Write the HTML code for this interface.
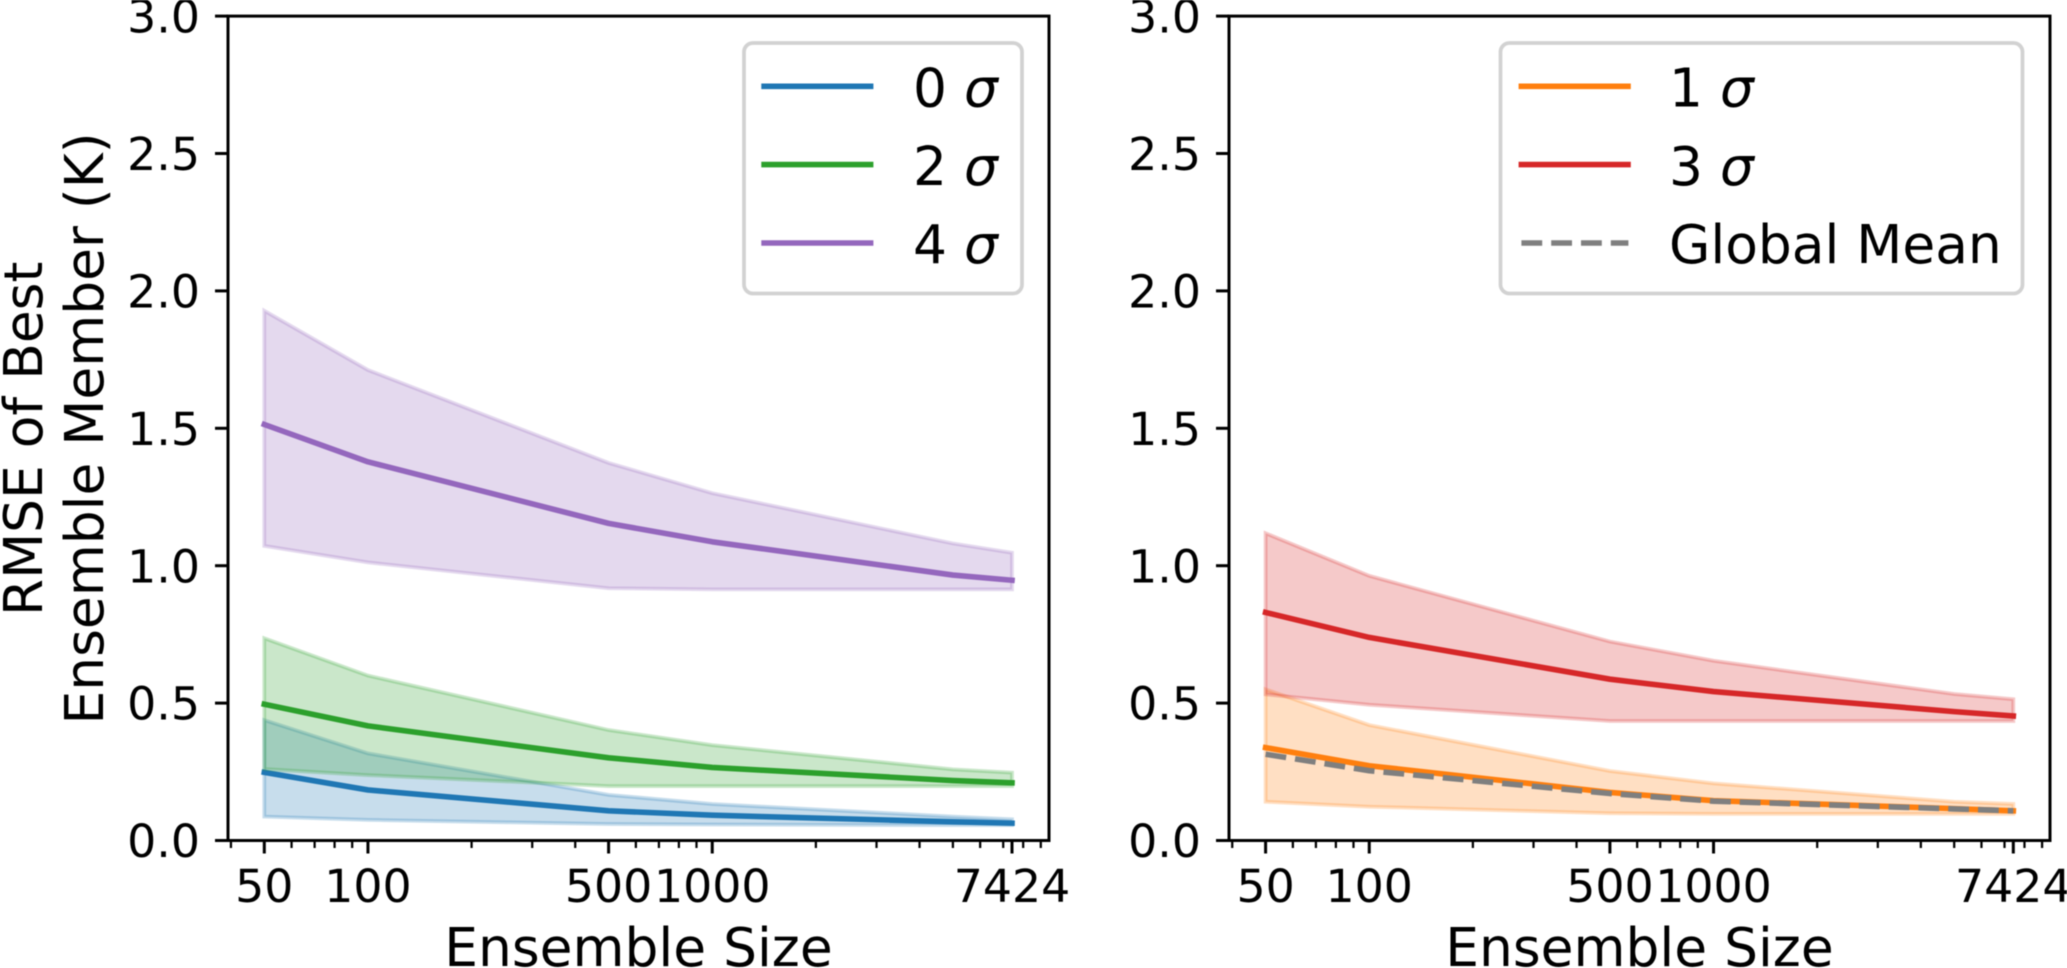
<!DOCTYPE html>
<html lang="en">
<head>
<meta charset="utf-8">
<title>RMSE of Best Ensemble Member vs Ensemble Size</title>
<style>
html,body{margin:0;padding:0;background:#fff;width:2067px;height:968px;overflow:hidden}
svg{display:block;font-family:"DejaVu Sans","Liberation Sans",sans-serif;fill:#000;filter:blur(0.5px)}
.tick{font-size:45.8px}
.label{font-size:53.4px}
.leg{font-size:53.4px}
.sig{font-style:italic}
</style>
</head>
<body>
<svg id="chart" xmlns="http://www.w3.org/2000/svg" width="2067" height="968" viewBox="0 0 2067 968">
  <rect x="0" y="0" width="2067" height="968" fill="#fff"/>
  <g id="marks-left"></g>
  <g id="marks-right"></g>
  <g id="axes-left"></g>
  <g id="axes-right"></g>

  <text class="label" transform="translate(41.8 616) rotate(-90)">RMSE of Best</text>
  <text class="label" transform="translate(102.8 724.5) rotate(-90)">Ensemble Member (K)</text>
  <text class="label" x="638.5" y="966" text-anchor="middle">Ensemble Size</text>
  <text class="label" x="1639.5" y="966" text-anchor="middle">Ensemble Size</text>

  <g>
    <rect x="744" y="43" width="278" height="250.5" rx="9" fill="#fff" fill-opacity="0.8" stroke="#d2d2d2" stroke-width="3.75"/>
    <g>
      <line x1="764.1" x2="870.6" y1="86.3" y2="86.3" stroke="#1f77b4" stroke-width="5.6" stroke-linecap="square"/>
      <text class="leg" x="913" y="106.5">0 <tspan class="sig">σ</tspan></text>
    </g>
    <g>
      <line x1="764.1" x2="870.6" y1="164.6" y2="164.6" stroke="#2ca02c" stroke-width="5.6" stroke-linecap="square"/>
      <text class="leg" x="913" y="184.8">2 <tspan class="sig">σ</tspan></text>
    </g>
    <g>
      <line x1="764.1" x2="870.6" y1="243" y2="243" stroke="#9467bd" stroke-width="5.6" stroke-linecap="square"/>
      <text class="leg" x="913" y="263.2">4 <tspan class="sig">σ</tspan></text>
    </g>
  </g>

  <g>
    <rect x="1500.5" y="43" width="522" height="250.5" rx="9" fill="#fff" fill-opacity="0.8" stroke="#d2d2d2" stroke-width="3.75"/>
    <g>
      <line x1="1521.4" x2="1628" y1="86.3" y2="86.3" stroke="#ff7f0e" stroke-width="5.6" stroke-linecap="square"/>
      <text class="leg" x="1669" y="106.5">1 <tspan class="sig">σ</tspan></text>
    </g>
    <g>
      <line x1="1521.4" x2="1628" y1="164.6" y2="164.6" stroke="#d62728" stroke-width="5.6" stroke-linecap="square"/>
      <text class="leg" x="1669" y="184.8">3 <tspan class="sig">σ</tspan></text>
    </g>
    <g>
      <line x1="1521.4" x2="1628.4" y1="243" y2="243" stroke="#7f7f7f" stroke-width="5.6" stroke-dasharray="20.8 9"/>
      <text class="leg" x="1669" y="263.2">Global Mean</text>
    </g>
  </g>
</svg>
<script>
// ---- data ----
const ensembleSizes = [50, 100, 500, 1000, 5000, 7424];
const xTickLabels = [50, 100, 500, 1000, 7424];
const xMinorTicks = [40, 60, 70, 80, 90, 200, 300, 400, 600, 700, 800, 900, 2000, 3000, 4000, 5000, 6000, 7000, 8000, 9000];
const yTickLabels = ['0.0', '0.5', '1.0', '1.5', '2.0', '2.5', '3.0'];

const sigma0Mean  = [0.248, 0.184, 0.108, 0.092, 0.068, 0.063];
const sigma0Upper = [0.438, 0.317, 0.166, 0.133, 0.087, 0.077];
const sigma0Lower = [0.087, 0.075, 0.060, 0.058, 0.056, 0.056];

const sigma2Mean  = [0.496, 0.417, 0.301, 0.266, 0.218, 0.210];
const sigma2Upper = [0.736, 0.600, 0.402, 0.347, 0.259, 0.247];
const sigma2Lower = [0.260, 0.238, 0.198, 0.198, 0.198, 0.198];

const sigma4Mean  = [1.514, 1.378, 1.154, 1.087, 0.966, 0.947];
const sigma4Upper = [1.928, 1.712, 1.374, 1.264, 1.081, 1.047];
const sigma4Lower = [1.072, 1.012, 0.918, 0.914, 0.914, 0.914];

const sigma1Mean  = [0.338, 0.272, 0.175, 0.145, 0.116, 0.108];
const sigma1Upper = [0.550, 0.420, 0.253, 0.208, 0.141, 0.133];
const sigma1Lower = [0.141, 0.123, 0.099, 0.097, 0.097, 0.097];

const sigma3Mean  = [0.830, 0.739, 0.587, 0.542, 0.469, 0.453];
const sigma3Upper = [1.118, 0.963, 0.724, 0.654, 0.533, 0.514];
const sigma3Lower = [0.532, 0.494, 0.435, 0.435, 0.435, 0.435];

const globalMean  = [0.314, 0.254, 0.171, 0.143, 0.115, 0.108];

// ---- drawing ----
const NS = 'http://www.w3.org/2000/svg';
const TOP = 16.1, BOTTOM = 840.5;
const yScale = v => BOTTOM - v * (BOTTOM - TOP) / 3;
const xScaleFor = x50 => v => x50 + 344.3 * Math.log10(v / 50);

function make(tag, attrs, parent) {
  const el = document.createElementNS(NS, tag);
  for (const k in attrs) el.setAttribute(k, attrs[k]);
  parent.appendChild(el);
  return el;
}

function drawBand(parent, xs, upper, lower, color, xScale) {
  const top = xs.map((x, i) => xScale(x).toFixed(2) + ',' + yScale(upper[i]).toFixed(2));
  const bot = xs.map((x, i) => xScale(x).toFixed(2) + ',' + yScale(lower[i]).toFixed(2)).reverse();
  const band = make('polygon', {
    points: top.concat(bot).join(' '),
    fill: color, 'fill-opacity': 0.25,
    stroke: color, 'stroke-opacity': 0.25, 'stroke-width': 3.75, 'stroke-linejoin': 'miter'
  }, parent);
  
  
}

function drawLine(parent, xs, values, color, xScale, dashed) {
  const pts = xs.map((x, i) => xScale(x).toFixed(2) + ',' + yScale(values[i]).toFixed(2)).join(' ');
  const attrs = {
    points: pts, fill: 'none', stroke: color, 'stroke-width': 5.6,
    'stroke-linejoin': 'round', 'stroke-linecap': dashed ? 'butt' : 'square'
  };
  if (dashed) attrs['stroke-dasharray'] = '20.8 9';
  const line = make('polyline', attrs, parent);
  
  
}

function drawAxes(parent, left, right, xScale) {
  const frame = make('rect', {
    x: left, y: TOP, width: right - left, height: BOTTOM - TOP,
    fill: 'none', stroke: '#000', 'stroke-width': 3
  }, parent);
  
  

  yTickLabels.forEach(label => {
    const y = yScale(parseFloat(label));
    const tick = make('line', { x1: left - 13, x2: left, y1: y, y2: y, stroke: '#000', 'stroke-width': 3 }, parent);
    
    
    const text = make('text', { x: left - 28, y: y + 16.6, 'text-anchor': 'end', class: 'tick' }, parent);
    text.textContent = label;
    
    
  });

  xMinorTicks.forEach(v => {
    const x = xScale(v);
    const tick = make('line', { x1: x, x2: x, y1: BOTTOM, y2: BOTTOM + 7.5, stroke: '#000', 'stroke-width': 2.25 }, parent);
    
    
  });

  xTickLabels.forEach(v => {
    const x = xScale(v);
    const tick = make('line', { x1: x, x2: x, y1: BOTTOM, y2: BOTTOM + 13, stroke: '#000', 'stroke-width': 3 }, parent);
    
    
    const text = make('text', { x: x, y: 902, 'text-anchor': 'middle', class: 'tick' }, parent);
    text.textContent = String(v);
    
    
  });
}

const xLeft = xScaleFor(264.3);
const xRight = xScaleFor(1265.6);
const gL = document.getElementById('marks-left');
const gR = document.getElementById('marks-right');

drawBand(gL, ensembleSizes, sigma0Upper, sigma0Lower, '#1f77b4', xLeft);
drawLine(gL, ensembleSizes, sigma0Mean, '#1f77b4', xLeft, false);
drawBand(gL, ensembleSizes, sigma2Upper, sigma2Lower, '#2ca02c', xLeft);
drawLine(gL, ensembleSizes, sigma2Mean, '#2ca02c', xLeft, false);
drawBand(gL, ensembleSizes, sigma4Upper, sigma4Lower, '#9467bd', xLeft);
drawLine(gL, ensembleSizes, sigma4Mean, '#9467bd', xLeft, false);

drawBand(gR, ensembleSizes, sigma1Upper, sigma1Lower, '#ff7f0e', xRight);
drawLine(gR, ensembleSizes, sigma1Mean, '#ff7f0e', xRight, false);
drawBand(gR, ensembleSizes, sigma3Upper, sigma3Lower, '#d62728', xRight);
drawLine(gR, ensembleSizes, sigma3Mean, '#d62728', xRight, false);
drawLine(gR, ensembleSizes, globalMean, '#7f7f7f', xRight, true);

drawAxes(document.getElementById('axes-left'), 228, 1049, xLeft);
drawAxes(document.getElementById('axes-right'), 1229, 2050, xRight);
</script>
</body>
</html>
